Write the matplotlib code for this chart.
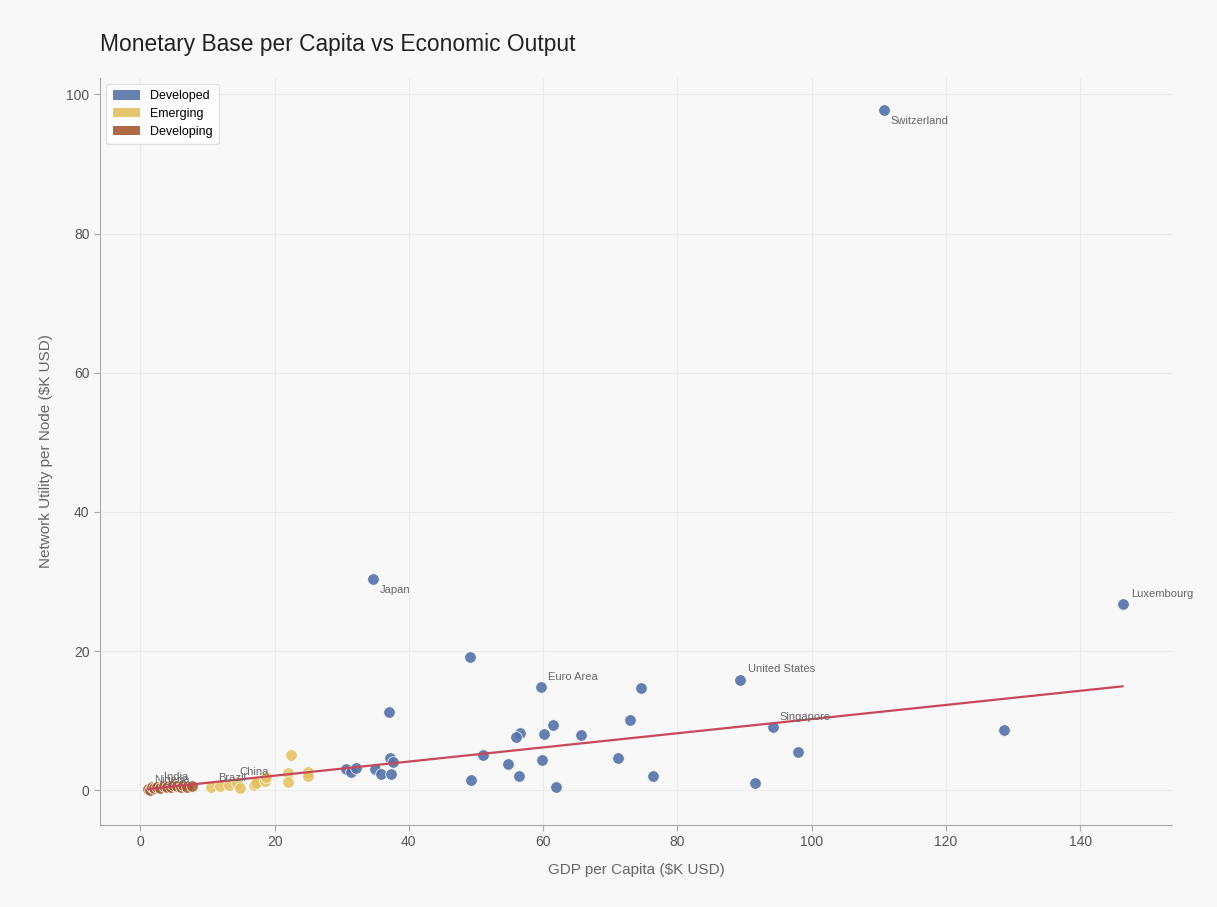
import numpy as np
import matplotlib
matplotlib.use('Agg')
import matplotlib.pyplot as plt
from matplotlib.patches import Patch

plt.rcParams['font.family'] = ['Liberation Sans', 'DejaVu Sans']

# GDP per capita ($K) and network utility per node ($K) by group
dev_x = [110.7, 146.3, 34.6, 49.1, 59.7, 74.6, 89.3, 94.2, 128.7, 97.9, 91.6,
         37.0, 72.9, 61.5, 56.6, 55.9, 60.2, 65.7, 71.2, 51.1, 54.8, 59.8,
         56.4, 49.2, 61.9, 76.3, 30.7, 31.4, 32.1, 35.0, 35.8, 37.2, 37.7, 37.4]
dev_y = [97.7, 26.8, 30.4, 19.2, 14.9, 14.7, 15.8, 9.1, 8.6, 5.5, 1.1,
         11.2, 10.1, 9.3, 8.2, 7.6, 8.1, 8.0, 4.7, 5.0, 3.8, 4.3,
         2.0, 1.5, 0.4, 2.0, 3.0, 2.6, 3.2, 3.1, 2.3, 4.6, 4.1, 2.3]

emg_x = [10.5, 11.9, 13.2, 14.4, 14.8, 16.9, 17.2, 18.5, 18.7, 22.0, 22.0,
         22.4, 25.0, 25.0]
emg_y = [0.4, 0.6, 0.8, 1.0, 0.3, 0.7, 1.0, 1.3, 1.9, 2.5, 1.2,
         5.1, 2.6, 2.1]

dvl_x = [1.2, 1.5, 1.8, 2.0, 2.5, 3.0, 3.5, 4.0, 4.5, 4.8, 5.5, 6.0, 6.3, 7.0, 7.7]
dvl_y = [0.2, 0.1, 0.4, 0.3, 0.5, 0.3, 0.6, 0.4, 0.5, 0.7, 0.6, 0.4, 0.8, 0.5, 0.6]

# labelled economies: name, x, y, text offset (points)
lbl_names = ['Switzerland', 'Luxembourg', 'Japan', 'Euro Area', 'United States',
             'Singapore', 'China', 'Brazil', 'India', 'Nigeria']
lbl_x = [110.7, 146.3, 34.6, 59.7, 89.3, 94.2, 14.4, 10.5, 2.5, 2.0]
lbl_y = [97.7, 26.8, 30.4, 14.9, 15.8, 9.1, 1.0, 0.4, 0.5, 0.3]
lbl_off = [(5, -8), (6, 7), (5, -8), (5, 7), (6, 8), (5, 7), (2, 8), (5, 7), (5, 7), (0, 6)]

# linear trend (slope, intercept)
trend = [0.1017, 0.05]

colors = {'Developed': '#5572a8', 'Emerging': '#e3c05e', 'Developing': '#a55a30'}

fig = plt.figure(figsize=(12.17, 9.07), dpi=100, facecolor='#f8f8f8')
ax = fig.add_axes([0.0822, 0.0904, 0.881, 0.824])
ax.set_facecolor('#f8f8f8')

ax.scatter(dev_x, dev_y, s=70, c=colors['Developed'], alpha=0.9,
           edgecolors='white', linewidths=0.6, zorder=2)
ax.scatter(emg_x, emg_y, s=70, c=colors['Emerging'], alpha=0.85,
           edgecolors='white', linewidths=0.6, zorder=2)
ax.scatter(dvl_x, dvl_y, s=70, c=colors['Developing'], alpha=0.85,
           edgecolors='white', linewidths=0.6, zorder=2)

all_x = np.array(dev_x + emg_x + dvl_x)
xs = np.array([all_x.min(), all_x.max()])
ax.plot(xs, trend[0] * xs + trend[1], color='#c8475a', lw=1.6, zorder=3)

for name, x, y, off in zip(lbl_names, lbl_x, lbl_y, lbl_off):
    ax.annotate(name, (x, y), xytext=off, textcoords='offset points',
                fontsize=8, color='#666666', ha='left', va='center', zorder=4)

ax.set_xlim(-6, 153.7)
ax.set_ylim(-5.0, 102.4)
ax.set_xticks(range(0, 141, 20))
ax.set_yticks(range(0, 101, 20))

ax.grid(True, color='#ececec', lw=0.8)
ax.set_axisbelow(True)
for s in ['top', 'right']:
    ax.spines[s].set_visible(False)
for s in ['left', 'bottom']:
    ax.spines[s].set_color('#aaaaaa')
ax.tick_params(colors='#aaaaaa', labelcolor='#555555', labelsize=10, length=4)

ax.set_xlabel('GDP per Capita ($K USD)', fontsize=11, color='#666666', labelpad=10)
ax.set_ylabel('Network Utility per Node ($K USD)', fontsize=11, color='#666666', labelpad=10)
ax.set_title('Monetary Base per Capita vs Economic Output', fontsize=16.4,
             color='#222222', loc='left', pad=19)

handles = [Patch(facecolor=colors[k], alpha=0.9, label=k) for k in colors]
leg = ax.legend(handles=handles, loc='upper left', fontsize=9, frameon=True,
                handlelength=2.2, handleheight=0.8, borderpad=0.5, labelspacing=0.45)
leg.get_frame().set_facecolor('white')
leg.get_frame().set_edgecolor('#dddddd')

fig.savefig('out.png', dpi=100, facecolor=fig.get_facecolor())
